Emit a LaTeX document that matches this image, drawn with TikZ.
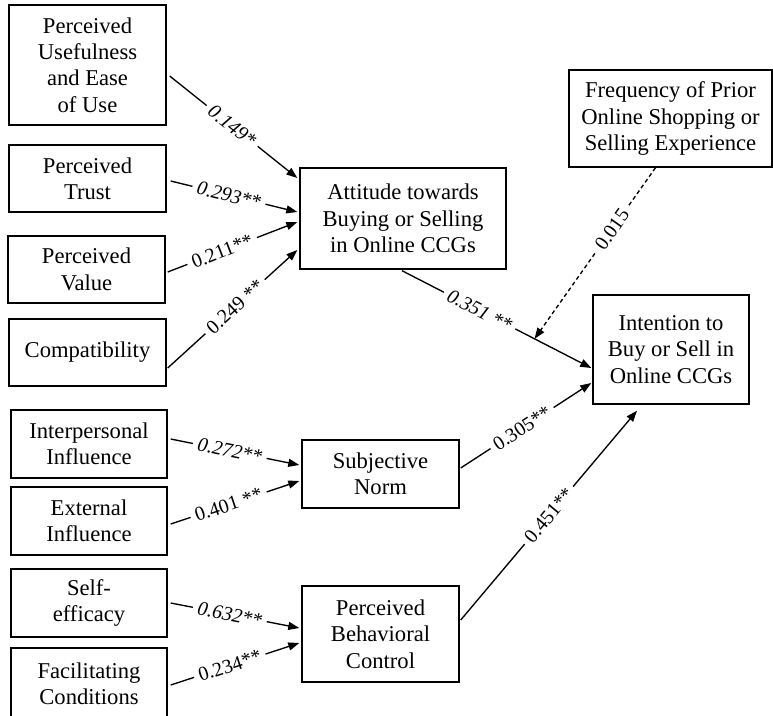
\documentclass[tikz,border=0pt]{standalone}
\usepackage{fontspec}
\setmainfont{Liberation Serif}
\usetikzlibrary{arrows.meta}
\begin{document}
\begin{tikzpicture}[x=1pt,y=-1pt,
  box/.style={draw, line width=1.4pt, inner sep=0pt, align=center, font=\fontsize{22.6}{26.4}\selectfont},
  arr/.style={line width=1.35pt, -{Triangle[length=11pt,width=8pt]}},
  lab/.style={sloped, fill=white, inner sep=5pt, font=\fontsize{20}{21}\selectfont},
  ilab/.style={lab, font=\fontsize{20}{21}\selectfont\itshape}]
\useasboundingbox (0,0) rectangle (773,715);
\clip (0,0) rectangle (773,715);
\fill[white] (0,0) rectangle (773,715);
% left column
\node[box, minimum width=157pt, minimum height=120pt] (pu) at (87.5,65) {Perceived\\Usefulness\\and Ease\\of Use};
\node[box, minimum width=157pt, minimum height=67pt] (pt) at (87.5,178.5) {Perceived\\Trust};
\node[box, minimum width=157pt, minimum height=67pt] (pv) at (86.5,269.5) {Perceived\\Value};
\node[box, minimum width=157pt, minimum height=67pt] (cp) at (87.5,352.5) {Compatibility};
\node[box, minimum width=156pt, minimum height=68pt] (ip) at (89,444) {Interpersonal\\Influence};
\node[box, minimum width=156pt, minimum height=68pt] (ei) at (89,521) {External\\Influence};
\node[box, minimum width=156pt, minimum height=68pt] (se) at (89,603) {Self-\\efficacy};
\node[box, minimum width=156pt, minimum height=72pt] (fc) at (89,684) {Facilitating\\Conditions};
% middle column
\node[box, minimum width=206pt, minimum height=101pt] (att) at (403,218.5) {Attitude towards\\Buying or Selling\\in Online CCGs};
\node[box, minimum width=157pt, minimum height=68pt] (sn) at (380.5,474) {Subjective\\Norm};
\node[box, minimum width=157pt, minimum height=96pt] (pbc) at (380.5,634) {Perceived\\Behavioral\\Control};
% right column
\node[box, minimum width=203pt, minimum height=97pt] (fq) at (670.5,118.5) {Frequency of Prior\\Online Shopping or\\Selling Experience};
\node[box, minimum width=156pt, minimum height=109pt] (it) at (671,349.5) {Intention to\\Buy or Sell in\\Online CCGs};
% arrows into attitude
\draw[arr] ([xshift=3pt,yshift=-11pt]pu.east) -- node[ilab, pos=0.49] {0.149*} ([xshift=-2pt,yshift=40.5pt]att.west);
\draw[arr] ([xshift=4pt,yshift=-2.5pt]pt.east) -- node[ilab, pos=0.46] {0.293**} ([xshift=-2pt,yshift=6.5pt]att.west);
\draw[arr] ([xshift=2pt,yshift=-2.5pt]pv.east) -- node[lab, pos=0.42] {0.211**} ([xshift=-2pt,yshift=-3.5pt]att.west);
\draw[arr] ([xshift=1pt,yshift=-15.5pt]cp.east) -- node[lab, pos=0.52] {0.249 **} ([xshift=-2pt,yshift=-31.5pt]att.west);
% arrows into subjective norm
\draw[arr] ([xshift=3pt,yshift=5pt]ip.east) -- node[ilab, pos=0.46] {0.272**} ([xshift=-2pt,yshift=9pt]sn.west);
\draw[arr] ([xshift=3pt,yshift=-3pt]ei.east) -- node[lab, pos=0.45] {0.401 **} ([xshift=-2pt,yshift=-7pt]sn.west);
% arrows into PBC
\draw[arr] ([xshift=3pt]se.east) -- node[ilab, pos=0.46] {0.632**} ([xshift=-2pt,yshift=6pt]pbc.west);
\draw[arr] ([xshift=3pt,yshift=-1pt]fc.east) -- node[lab, pos=0.46] {0.234**} ([xshift=-2pt,yshift=-9pt]pbc.west);
% arrows into intention
\draw[arr] ([xshift=-1pt,yshift=-1pt]att.south) -- node[ilab, pos=0.41] {0.351 **} coordinate[pos=0.7] (mod) ([xshift=-1pt,yshift=-18.5pt]it.west);
\draw[arr] ([xshift=1pt,yshift=6pt]sn.east) -- node[lab, pos=0.47] {0.305**} ([xshift=-1pt,yshift=-33.5pt]it.west);
\draw[arr] ([xshift=1pt,yshift=14pt]pbc.east) -- node[lab, pos=0.5] {0.451**} ([xshift=-34pt,yshift=-6pt]it.south);
% moderator
\draw[arr, dash pattern=on 4pt off 3pt] ([xshift=-15pt]fq.south) -- node[lab, pos=0.36] {0.015} (mod);
\end{tikzpicture}
\end{document}
